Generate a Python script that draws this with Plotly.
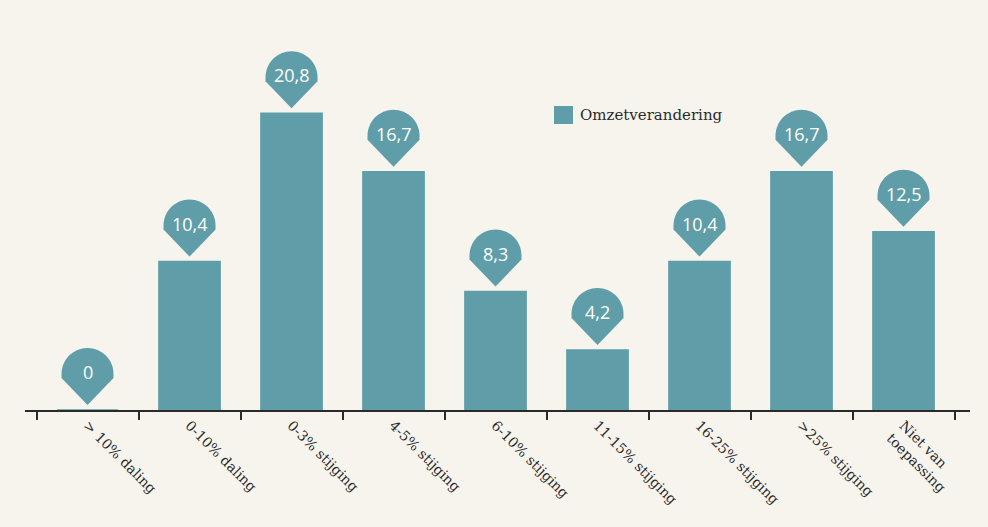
import plotly.graph_objects as go

# Omzetverandering per categorie (percentage)
categories = [
    "> 10% daling",
    "0-10% daling",
    "0-3% stijging",
    "4-5% stijging",
    "6-10% stijging",
    "11-15% stijging",
    "16-25% stijging",
    ">25% stijging",
    "Niet van<br>toepassing",
]
values = [0, 10.4, 20.8, 16.7, 8.3, 4.2, 10.4, 16.7, 12.5]
series_name = "Omzetverandering"

BG = "#f7f4ee"
TEAL = "#5f9ea8"
INK = "#2a2a2a"
SLAB = "DejaVu Serif"
SANS = "Open Sans"


def fmt(v):
    s = f"{v:.1f}".replace(".", ",")
    return s[:-2] if s.endswith(",0") else s


fig = go.Figure(
    go.Bar(
        x=categories,
        y=values,
        name=series_name,
        marker=dict(color=TEAL, line=dict(color=TEAL, width=1.5)),
        width=0.6,
        showlegend=False,
        hoverinfo="skip",
    )
)

# pin-shaped value callouts above each bar (pixel geometry around the bar top)
k = 0.5523
r = 26
tip = 5
cy = tip + 31
pin_path = (
    f"M 0,{tip} L {-r},{cy - 4} L {-r},{cy} "
    f"C {-r},{cy + r * k} {-r * k},{cy + r} 0,{cy + r} "
    f"C {r * k},{cy + r} {r},{cy + r * k} {r},{cy} "
    f"L {r},{cy - 4} Z"
)

shapes = []
annotations = []
for c, v in zip(categories, values):
    shapes.append(
        dict(
            type="path",
            xref="x",
            yref="y",
            xsizemode="pixel",
            ysizemode="pixel",
            xanchor=c,
            yanchor=v,
            path=pin_path,
            fillcolor=TEAL,
            line=dict(width=0),
            layer="above",
        )
    )
    annotations.append(
        dict(
            x=c,
            y=v,
            xref="x",
            yref="y",
            text=fmt(v),
            showarrow=False,
            yanchor="middle",
            yshift=38,
            font=dict(family=SANS, size=18, color="white"),
        )
    )

# legend swatch and label
shapes.append(
    dict(
        type="rect",
        xref="paper",
        yref="paper",
        x0=(554 - 25) / 945,
        x1=(573 - 25) / 945,
        y0=(410 - 124) / 390,
        y1=(410 - 106) / 390,
        fillcolor=TEAL,
        line=dict(width=0),
    )
)
annotations.append(
    dict(
        x=(578 - 25) / 945,
        y=(410 - 115) / 390,
        xref="paper",
        yref="paper",
        xanchor="left",
        yanchor="middle",
        text=series_name,
        showarrow=False,
        font=dict(family=SLAB, size=15, color=INK),
    )
)

fig.update_layout(
    width=988,
    height=527,
    margin=dict(l=25, r=18, t=20, b=117),
    paper_bgcolor=BG,
    plot_bgcolor=BG,
    shapes=shapes,
    annotations=annotations,
    bargap=0.4,
    xaxis=dict(
        type="category",
        range=[-0.613, 8.652],
        showline=True,
        linecolor=INK,
        linewidth=1.5,
        ticks="outside",
        tickson="boundaries",
        ticklen=8,
        tickwidth=1.5,
        tickcolor=INK,
        tickangle=45,
        tickfont=dict(family=SLAB, size=14, color=INK),
        showgrid=False,
        zeroline=False,
    ),
    yaxis=dict(
        range=[0, 390 / 14.27],
        visible=False,
        showgrid=False,
        zeroline=False,
    ),
)

fig.write_html("out.html")
